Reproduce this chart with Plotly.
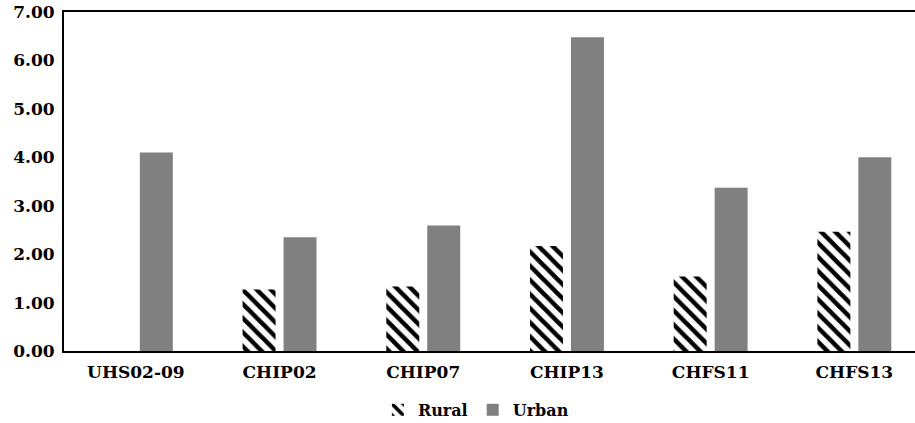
import plotly.graph_objects as go

categories = ["UHS02-09", "CHIP02", "CHIP07", "CHIP13", "CHFS11", "CHFS13"]
rural = [None, 1.27, 1.33, 2.17, 1.54, 2.46]
urban = [4.10, 2.35, 2.59, 6.48, 3.37, 4.00]
y_ticks = [0, 1, 2, 3, 4, 5, 6, 7]
y_tick_labels = ["0.00", "1.00", "2.00", "3.00", "4.00", "5.00", "6.00", "7.00"]

font_family = "DejaVu Serif"

fig = go.Figure()
fig.add_trace(go.Bar(
    x=categories, y=rural, name="Rural",
    marker=dict(color="white", line=dict(width=0),
                pattern=dict(shape="\\", fgcolor="black", bgcolor="white",
                             fgopacity=1, size=10, solidity=0.45)),
))
fig.add_trace(go.Bar(
    x=categories, y=urban, name="Urban",
    marker=dict(color="#808080", line=dict(width=0)),
))

fig.update_layout(
    width=915, height=423,
    margin=dict(l=64, r=0, t=12, b=72, autoexpand=False),
    paper_bgcolor="white", plot_bgcolor="white",
    barmode="group", bargap=0.43, bargroupgap=0.195,
    font=dict(family=font_family, size=16, color="black", weight="bold"),
    showlegend=True,
    legend=dict(orientation="h", x=0.484, xanchor="center",
                yref="container", y=0.031, yanchor="middle",
                font=dict(family=font_family, size=16, color="black", weight="bold"),
                itemwidth=30, tracegroupgap=0),
)
fig.update_xaxes(
    range=[-0.5, 5.422],
    showline=True, linecolor="black", linewidth=2, mirror=True,
    showgrid=False, ticks="", zeroline=False, automargin=False,
    tickfont=dict(family=font_family, size=17, color="black", weight="bold"),
    ticklabelstandoff=5,
)
fig.update_yaxes(
    range=[0, 7], tickvals=y_ticks, ticktext=y_tick_labels,
    showline=True, linecolor="black", linewidth=2,
    showgrid=False, zeroline=False, ticks="", automargin=False,
    tickfont=dict(family=font_family, size=17, color="black", weight="bold"),
    ticklabelstandoff=4,
)

fig.write_html("out.html", config={"displayModeBar": False},
               post_script="document.body.style.margin='0';document.body.style.padding='0';")
